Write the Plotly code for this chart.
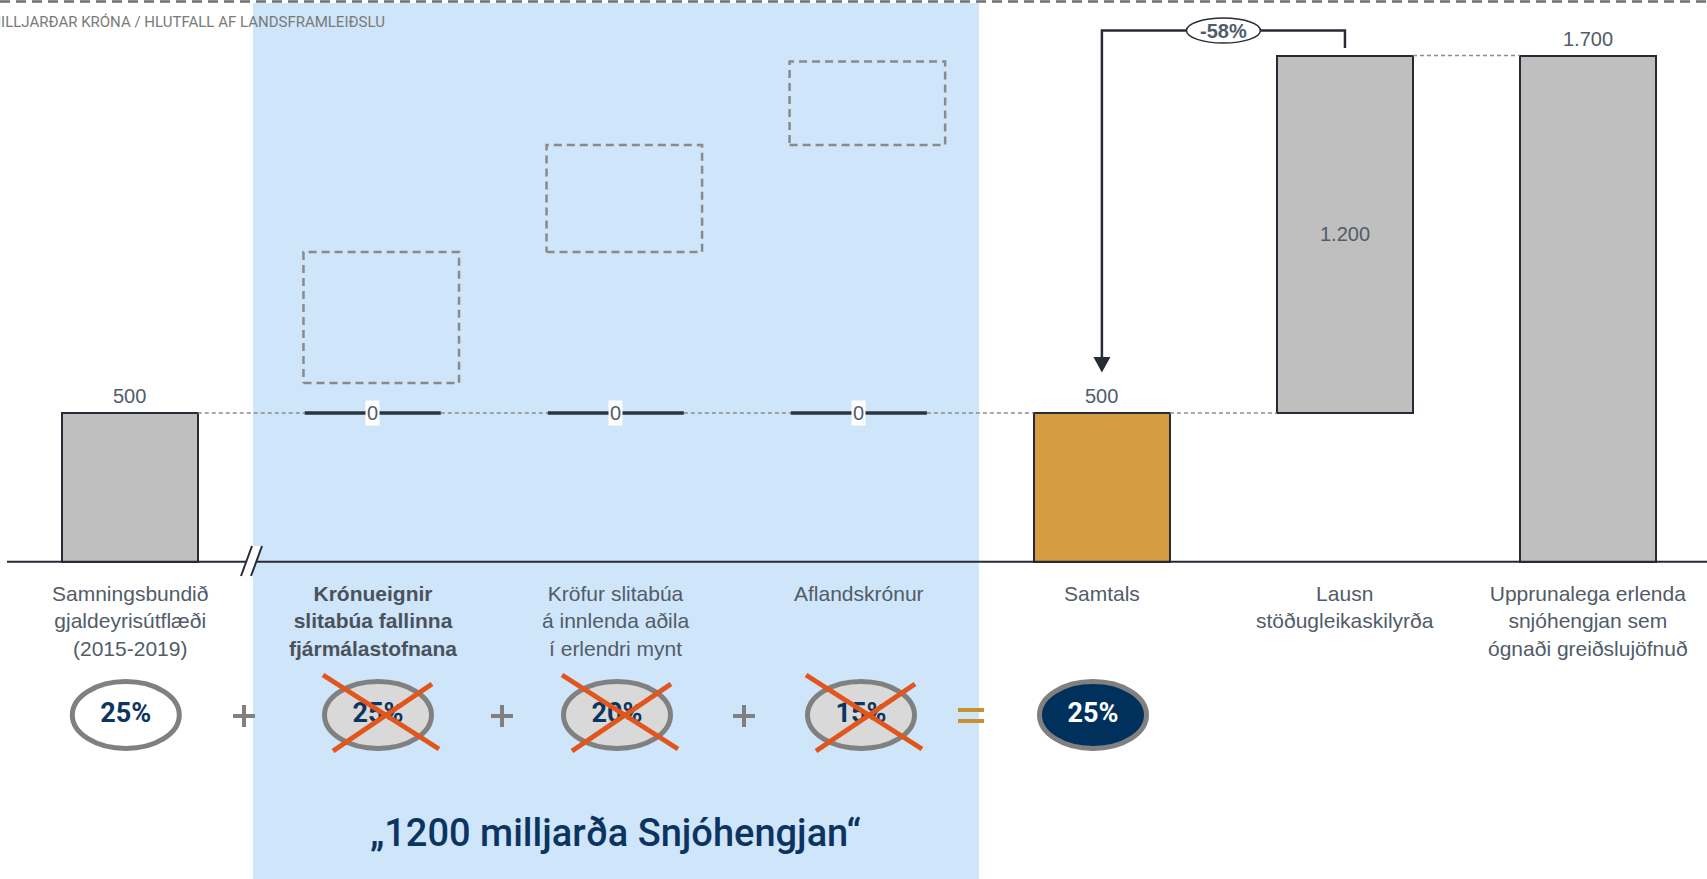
import plotly.graph_objects as go

# --- data (milljarðar króna) ---
CATEGORIES = [
    "Samningsbundið<br>gjaldeyrisútflæði<br>(2015-2019)",
    "<b>Krónueignir<br>slitabúa fallinna<br>fjármálastofnana</b>",
    "Kröfur slitabúa<br>á innlenda aðila<br>í erlendri mynt",
    "Aflandskrónur",
    "Samtals",
    "Lausn<br>stöðugleikaskilyrða",
    "Upprunalega erlenda<br>snjóhengjan sem<br>ógnaði greiðslujöfnuð",
]
VALUES = [500, 0, 0, 0, 500, 1200, 1700]
BASES = [0, 500, 500, 500, 0, 500, 0]
IS_TOTAL = [False, False, False, False, True, False, False]
GHOST_BASE = [600, 1040, 1400]
GHOST_TOP = [1040, 1400, 1680]
SHARE_LABELS = ["25%", "25%", "20%", "15%", "25%"]
SHARE_STRUCK = [False, True, True, True, False]
CHANGE_LABEL = "-58%"
HEADER = "MILLJARÐAR KRÓNA / HLUTFALL AF LANDSFRAMLEIÐSLU"
FOOTER = "„1200 milljarða Snjóhengjan“"

# --- style ---
W, H = 1707, 879
DARK = "#262b36"
TEXT = "#525c68"
NAVY = "#0c3461"
GREY_BAR = "#bfbfbf"
GOLD = "#d49b41"
BLUE_BG = "#cfe5f9"
RING = "#808080"
CROSS = "#e0561c"
BAR_W = 0.56
LABEL_FONT = "Liberation Sans"

# pixel <-> data helpers (plot area spans the whole page)
X0, DX = 129.7, 243.05
Y0, DY = 561.8, 0.2978


def px_x(p):
    return (p - X0) / DX


def px_y(p):
    return (Y0 - p) / DY


def fmt(v):
    return f"{v:,}".replace(",", ".")


n = len(CATEGORIES)
ends = [b + v for b, v in zip(BASES, VALUES)]

fig = go.Figure()

# bars with a value
bar_idx = [i for i in range(n) if VALUES[i] > 0]
fig.add_bar(
    x=bar_idx, y=[VALUES[i] for i in bar_idx], base=[BASES[i] for i in bar_idx],
    width=BAR_W,
    marker=dict(color=[GOLD if IS_TOTAL[i] else GREY_BAR for i in bar_idx],
                line=dict(color=DARK, width=2)),
    hoverinfo="skip",
)

# connectors between consecutive steps
cx, cy = [], []
for i in range(n - 1):
    cx += [i + BAR_W / 2, i + 1 - BAR_W / 2, None]
    cy += [ends[i], ends[i], None]
fig.add_scatter(x=cx, y=cy, mode="lines", hoverinfo="skip",
                line=dict(color="#8c8c8c", width=1.5, dash="4px,3px"))

# zero-valued steps drawn as flat lines
zx, zy = [], []
for i in range(n):
    if VALUES[i] == 0:
        zx += [i - BAR_W / 2, i + BAR_W / 2, None]
        zy += [BASES[i], BASES[i], None]
fig.add_scatter(x=zx, y=zy, mode="lines", hoverinfo="skip",
                line=dict(color="#2b3340", width=3.5))

# dashed "ghost" bars of the removed components
gx, gy = [], []
for j, (b, t) in enumerate(zip(GHOST_BASE, GHOST_TOP)):
    c = j + 1 + 0.035
    hw = 0.32
    gx += [c - hw, c + hw, c + hw, c - hw, c - hw, None]
    gy += [b, b, t, t, b, None]
fig.add_scatter(x=gx, y=gy, mode="lines", hoverinfo="skip",
                line=dict(color="#8a8a8a", width=2.5, dash="8px,5px"))

# share-of-GDP ovals
OVAL_X = [px_x(p) for p in (125.8, 378, 617, 861, 1093)]
OVAL_Y = px_y(715)
ohw, ohh = 53.5 / DX, 33.5 / DY
shapes = [
    dict(type="rect", xref="x", yref="paper", x0=px_x(253), x1=px_x(979),
         y0=0, y1=1 - 3 / H, fillcolor=BLUE_BG, line_width=0, layer="below"),
]
for k, (ox, lab) in enumerate(zip(OVAL_X, SHARE_LABELS)):
    if k == len(SHARE_LABELS) - 1:
        fill = "#00305c"
    elif SHARE_STRUCK[k]:
        fill = "#d9d9d9"
    else:
        fill = "white"
    shapes.append(dict(type="circle", xref="x", yref="y",
                       x0=ox - ohw, x1=ox + ohw, y0=OVAL_Y - ohh, y1=OVAL_Y + ohh,
                       fillcolor=fill, line=dict(color=RING, width=5), layer="below"))

fig.add_scatter(
    x=OVAL_X, y=[OVAL_Y] * len(OVAL_X), mode="text", text=SHARE_LABELS,
    textfont=dict(family="Roboto", size=27, weight="bold",
                  color=[NAVY] * (len(OVAL_X) - 1) + ["white"]),
    hoverinfo="skip",
)

# orange crosses over the struck ovals
xx, xy = [], []
for k, ox in enumerate(OVAL_X):
    if SHARE_STRUCK[k]:
        xx += [ox - 55 / DX, ox + 61 / DX, None, ox + 54 / DX, ox - 45 / DX, None]
        xy += [OVAL_Y + 40 / DY, OVAL_Y - 34 / DY, None,
               OVAL_Y + 31 / DY, OVAL_Y - 36 / DY, None]
fig.add_scatter(x=xx, y=xy, mode="lines", hoverinfo="skip",
                line=dict(color=CROSS, width=5))

# baseline, axis break, operators
shapes += [
    dict(type="line", xref="paper", yref="paper", x0=0, x1=1,
         y0=1 - 1.5 / H, y1=1 - 1.5 / H,
         line=dict(color="#6f6f6f", width=2.5, dash="10px,6px")),
    dict(type="line", x0=px_x(7), x1=px_x(W), y0=0, y1=0,
         line=dict(color=DARK, width=2)),
    dict(type="path",
         path=f"M {px_x(241)},{px_y(576)} L {px_x(252)},{px_y(546)} "
              f"L {px_x(262)},{px_y(546)} L {px_x(251)},{px_y(576)} Z",
         fillcolor="white", line_width=0),
    dict(type="line", x0=px_x(241), x1=px_x(252), y0=px_y(576), y1=px_y(546),
         line=dict(color=DARK, width=2)),
    dict(type="line", x0=px_x(251), x1=px_x(262), y0=px_y(576), y1=px_y(546),
         line=dict(color=DARK, width=2)),
]
for p in (244, 502, 744):
    shapes += [
        dict(type="line", x0=px_x(p - 11), x1=px_x(p + 11), y0=px_y(716), y1=px_y(716),
             line=dict(color=RING, width=4)),
        dict(type="line", x0=px_x(p), x1=px_x(p), y0=px_y(705), y1=px_y(727),
             line=dict(color=RING, width=4)),
    ]
for py in (710, 721):
    shapes.append(dict(type="line", x0=px_x(958), x1=px_x(984), y0=px_y(py), y1=px_y(py),
                       line=dict(color="#c9902f", width=4)))

# -58% bracket from Lausn to Samtals
top = ends[5] + 84
shapes += [
    dict(type="path", path=f"M 5,{ends[5] + 25} L 5,{top} L 4,{top} L 4,{ends[4] + 188}",
         line=dict(color=DARK, width=2.5)),
    dict(type="path", path=f"M {4 - 8.5 / DX},{ends[4] + 188} L {4 + 8.5 / DX},{ends[4] + 188} "
                           f"L 4,{ends[4] + 136} Z",
         fillcolor=DARK, line_width=0),
    dict(type="circle", x0=4.5 - 37 / DX, x1=4.5 + 37 / DX, y0=top - 12.5 / DY,
         y1=top + 12.5 / DY, fillcolor="white", line=dict(color=DARK, width=1.5)),
]

ann = []
# value labels
for i in range(n):
    if VALUES[i] == 0:
        ann.append(dict(x=i, y=BASES[i], text="0", showarrow=False, bgcolor="white",
                        borderpad=1, font=dict(family=LABEL_FONT, size=20, color=TEXT)))
    elif BASES[i] > 0:
        ann.append(dict(x=i, y=BASES[i] + VALUES[i] / 2, text=fmt(VALUES[i]),
                        showarrow=False, font=dict(family=LABEL_FONT, size=20, color=TEXT)))
    else:
        ann.append(dict(x=i, y=ends[i], text=fmt(VALUES[i]), showarrow=False,
                        yanchor="bottom", yshift=4,
                        font=dict(family=LABEL_FONT, size=20, color=TEXT)))
# category labels
for i, c in enumerate(CATEGORIES):
    ann.append(dict(x=i, y=px_y(580), text=c, showarrow=False, yanchor="top",
                    font=dict(family=LABEL_FONT, size=21,
                              color="#4a525c" if c.startswith("<b>") else TEXT)))
ann += [
    dict(x=4.5, y=top, text=f"<b>{CHANGE_LABEL}</b>", showarrow=False,
         font=dict(family=LABEL_FONT, size=20, color=TEXT)),
    dict(xref="paper", yref="paper", x=387 / W, y=1 - 22 / H, xanchor="right",
         yanchor="middle", text=HEADER, showarrow=False,
         font=dict(family="Roboto", size=15, color="#7a7a7a")),
    dict(x=2, y=px_y(833), text=FOOTER, showarrow=False,
         font=dict(family="Roboto", size=38, weight=500, color=NAVY)),
]

fig.update_layout(
    width=W, height=H, margin=dict(l=0, r=0, t=0, b=0),
    paper_bgcolor="white", plot_bgcolor="white", showlegend=False,
    xaxis=dict(range=[px_x(0), px_x(W)], visible=False, fixedrange=True),
    yaxis=dict(range=[px_y(H), px_y(0)], visible=False, fixedrange=True),
    shapes=shapes, annotations=ann, bargap=0,
)

# drop the browser's default body margin so the figure fills the window exactly
fig.write_html("out.html", config={"displayModeBar": False},
               post_script="document.body.style.margin='0';")
